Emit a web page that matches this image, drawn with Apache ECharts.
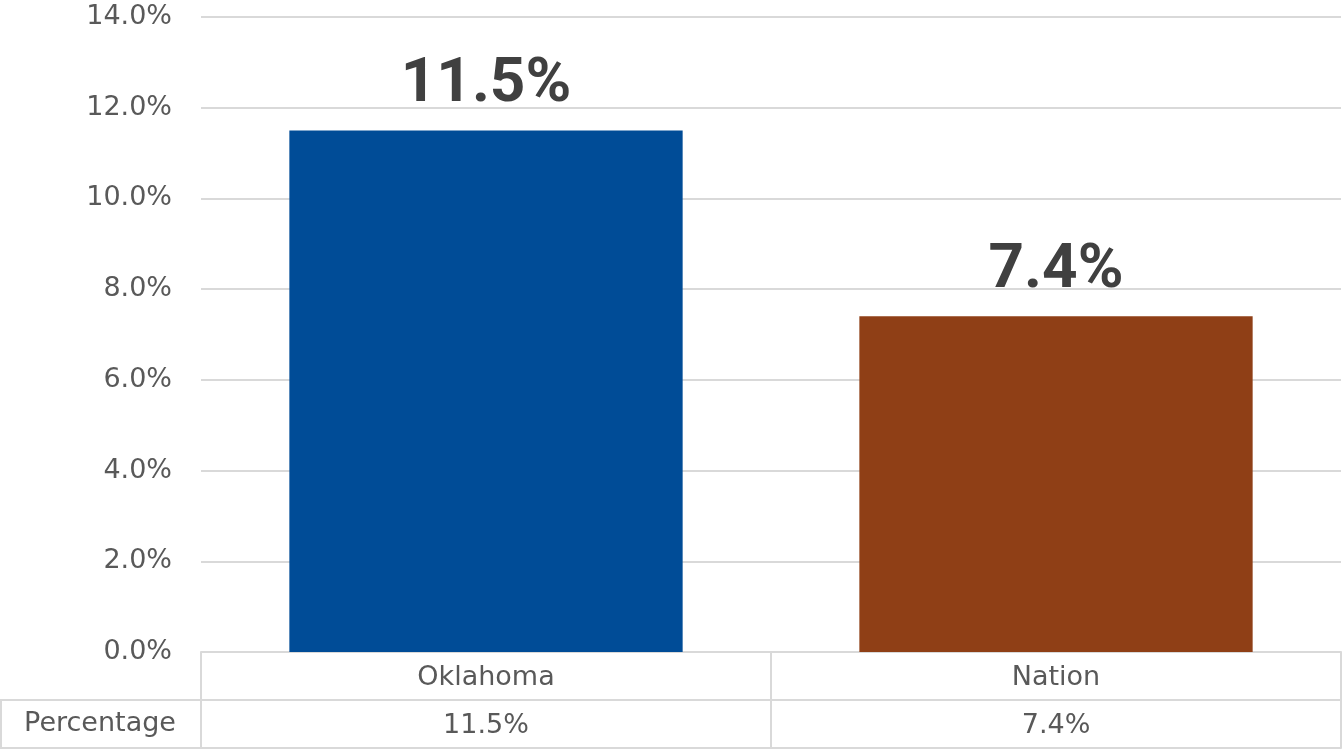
<!DOCTYPE html>
<html>
<head>
<meta charset="utf-8">
<style>
html,body{margin:0;padding:0;background:#fff;}
#chart{width:1343px;height:750px;}
</style>
<script src="https://cdn.jsdelivr.net/npm/echarts@6/dist/echarts.min.js"></script>
</head>
<body>
<div id="chart"></div>
<script>
var categories = ['Oklahoma', 'Nation'];
var values = [11.5, 7.4];
var barColors = ['#004C97', '#8F3F16'];
var rowLabel = 'Percentage';
var yTicks = [0, 2, 4, 6, 8, 10, 12, 14];

var fmt = function (v) { return v.toFixed(1) + '%'; };
var grey = '#d9d9d9';
var txt = '#595959';
var font = 'DejaVu Sans';

var chart = echarts.init(document.getElementById('chart'), null, {renderer: 'canvas'});
chart.setOption({
  animation: false,
  backgroundColor: '#fff',
  grid: {left: 201, right: 2, top: 17, bottom: 98, containLabel: false},
  xAxis: [
    {
      type: 'category', data: categories, position: 'bottom',
      axisLine: {show: true, lineStyle: {color: grey, width: 2}},
      axisTick: {show: true, length: 96, lineStyle: {color: grey, width: 2}},
      axisLabel: {fontFamily: font, fontSize: 27, color: txt, margin: 12}
    },
    {
      type: 'category', data: values.map(fmt), position: 'bottom', offset: 48,
      axisLine: {show: true, lineStyle: {color: grey, width: 2}},
      axisTick: {show: false},
      axisLabel: {fontFamily: font, fontSize: 27, color: txt, margin: 12}
    },
    {
      type: 'category', data: categories, position: 'bottom', offset: 96,
      axisLine: {show: true, lineStyle: {color: grey, width: 2}},
      axisTick: {show: false},
      axisLabel: {show: false}
    }
  ],
  yAxis: {
    type: 'value', min: yTicks[0], max: yTicks[yTicks.length - 1], interval: yTicks[1] - yTicks[0],
    axisLine: {show: false}, axisTick: {show: false},
    splitLine: {show: true, lineStyle: {color: grey, width: 2}},
    axisLabel: {fontFamily: font, fontSize: 27, color: txt, margin: 29, formatter: fmt}
  },
  series: [{
    type: 'bar',
    xAxisIndex: 0,
    barCategoryGap: '31%',
    data: values.map(function (v, i) { return {value: v, itemStyle: {color: barColors[i]}}; }),
    label: {
      show: true, position: 'top', distance: 14,
      fontFamily: 'Roboto', fontWeight: 'bold', fontSize: 62, color: '#404040',
      formatter: function (p) { return fmt(p.value); }
    }
  }],
  graphic: [
    {type: 'rect', shape: {x: 1, y: 700, width: 200, height: 48}, style: {fill: 'none', stroke: grey, lineWidth: 2}, z: 10},
    {type: 'text', x: 100, y: 724, style: {text: rowLabel, fontFamily: font, fontSize: 27, fill: txt, align: 'center', verticalAlign: 'middle'}, z: 11}
  ]
});
</script>
</body>
</html>
